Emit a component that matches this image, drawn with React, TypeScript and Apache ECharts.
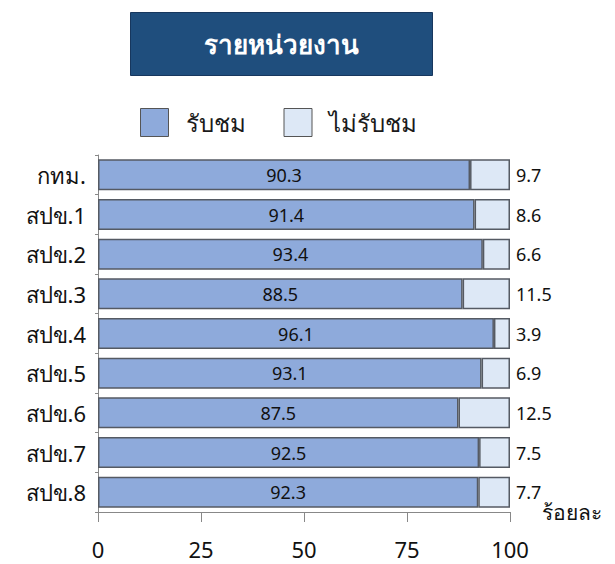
import React, { useEffect, useRef } from "react";
import * as echarts from "echarts";

const categories = ["กทม.", "สปข.1", "สปข.2", "สปข.3", "สปข.4", "สปข.5", "สปข.6", "สปข.7", "สปข.8"];
const watched = [90.3, 91.4, 93.4, 88.5, 96.1, 93.1, 87.5, 92.5, 92.3];
const notWatched = [9.7, 8.6, 6.6, 11.5, 3.9, 6.9, 12.5, 7.5, 7.7];
const seriesNames = ["รับชม", "ไม่รับชม"];
const titleText = "รายหน่วยงาน";
const unitText = "ร้อยละ";

const FONT = "Tahoma, 'Noto Sans', 'DejaVu Sans', sans-serif";

export default function App() {
  const ref = useRef<HTMLDivElement>(null);
  useEffect(() => {
    if (!ref.current) return;
    const chart = echarts.init(ref.current, null, { renderer: "svg" });
    chart.setOption({
      animation: false,
      backgroundColor: "#ffffff",
      textStyle: { fontFamily: FONT },
      graphic: [
        {
          type: "rect",
          left: 122,
          top: 4,
          shape: { width: 302, height: 63 },
          style: { fill: "#1f4e7d", stroke: "#17375e", lineWidth: 1 },
        },
        {
          type: "text",
          x: 273,
          y: 36,
          style: {
            text: titleText,
            fill: "#ffffff",
            font: `bold 26px ${FONT}`,
            align: "center",
            verticalAlign: "middle",
          },
        },
      ],
      legend: {
        top: 95,
        left: 127,
        itemWidth: 28,
        itemHeight: 28,
        itemGap: 38,
        icon: "rect",
        textStyle: { fontSize: 24, color: "#1a1a1a", padding: [0, 0, 0, 12], fontFamily: FONT },
        itemStyle: { borderColor: "#555555", borderWidth: 1 },
        data: seriesNames,
      },
      grid: { left: 90, right: 105, top: 147, bottom: 52, containLabel: false },
      xAxis: {
        type: "value",
        min: 0,
        max: 100,
        interval: 25,
        splitLine: { show: false },
        axisLine: { show: true, lineStyle: { color: "#888888" } },
        axisTick: { show: true, length: 10, lineStyle: { color: "#888888" } },
        axisLabel: { fontSize: 22, color: "#111111", margin: 26, fontFamily: FONT },
        name: unitText,
        nameLocation: "end",
        nameGap: 32,
        nameTextStyle: { fontSize: 21, color: "#111111", verticalAlign: "middle", padding: [4, 0, 0, 0], fontFamily: FONT },
      },
      yAxis: {
        type: "category",
        data: categories,
        inverse: true,
        axisLine: { show: true, lineStyle: { color: "#888888" } },
        axisTick: { show: true, length: 3, lineStyle: { color: "#888888" } },
        axisLabel: { fontSize: 22, color: "#111111", margin: 12, fontFamily: FONT },
      },
      series: [
        {
          name: seriesNames[0],
          type: "bar",
          stack: "total",
          data: watched,
          barCategoryGap: "22%",
          itemStyle: { color: "#8eaadb", borderColor: "#555a63", borderWidth: 1.5 },
          label: { show: true, position: "inside", fontSize: 18, color: "#111111", fontFamily: FONT },
        },
        {
          name: seriesNames[1],
          type: "bar",
          stack: "total",
          data: notWatched,
          itemStyle: { color: "#dde8f6", borderColor: "#555a63", borderWidth: 1.5 },
          label: { show: true, position: "right", distance: 6, fontSize: 18, color: "#111111", fontFamily: FONT },
        },
      ],
    });
    return () => chart.dispose();
  }, []);
  return <div ref={ref} style={{ width: 607, height: 556 }} />;
}
